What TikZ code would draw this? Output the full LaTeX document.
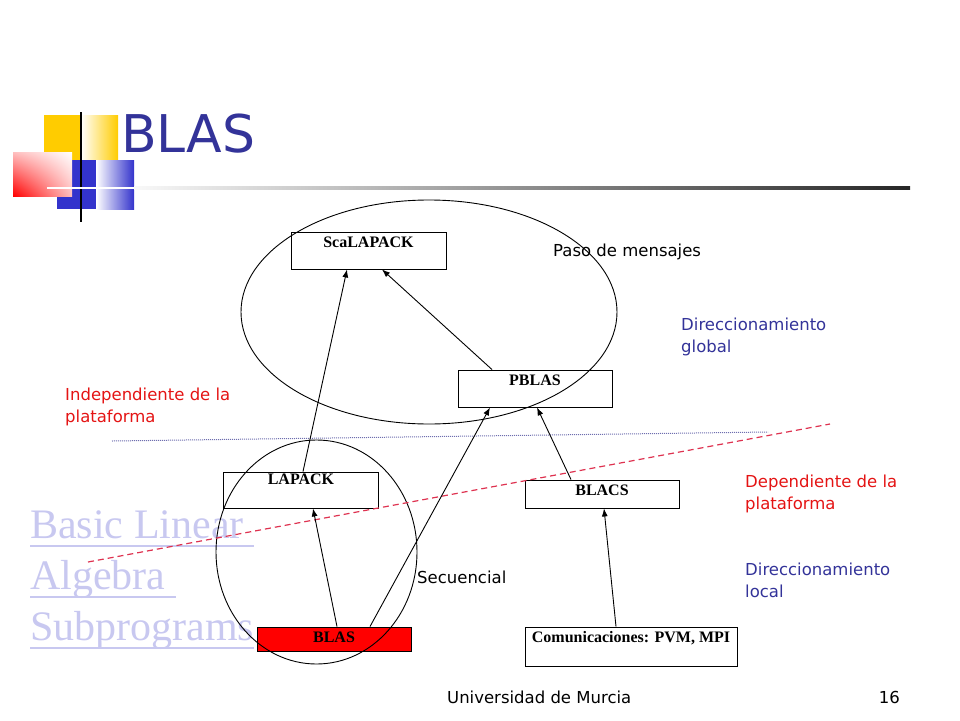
\documentclass[tikz,border=0pt]{standalone}
\usepackage{fontspec}
\setmainfont{DejaVu Sans}
\newfontfamily\timesfont{Liberation Serif}
\usepackage{tikz}
\usetikzlibrary{arrows.meta, positioning, shadings}
\definecolor{TitleColor}{RGB}{51,51,153}
\definecolor{AlertColor}{RGB}{228,20,20}
\definecolor{LinkColor}{RGB}{200,200,240}
\definecolor{CutColor}{RGB}{222,50,80}
\definecolor{DotColor}{RGB}{110,110,175}
\definecolor{LogoYellow}{RGB}{255,204,0}
\definecolor{LogoBlue}{RGB}{51,51,204}
\tikzstyle{arrow} = [line width=0.9pt, black, ->, >={Latex[length=8pt,width=6pt]}]
\tikzstyle{box} = [draw=black, line width=0.9pt, rectangle, inner sep=0pt]
\tikzstyle{boxtext} = [anchor=north, inner sep=0pt, yshift=-5pt, font=\timesfont\bfseries\fontsize{16}{18}\selectfont]
\tikzstyle{note} = [inner sep=0pt, align=left, font=\fontsize{16.5}{22}\selectfont]
\tikzstyle{link} = [inner sep=0pt, anchor=base west, text=LinkColor, font=\timesfont\fontsize{42}{51}\selectfont]

\begin{document}
\begin{tikzpicture}[x=1pt, y=-1pt]
    \useasboundingbox (0,0) rectangle (960,720);

    % logo and title
    \fill[LogoYellow] (44,115) rectangle (81,160);
    \shade[left color=white, right color=LogoYellow] (81,115) rectangle (118,160);
    \fill[LogoBlue] (57,160) rectangle (96,209);
    \shade[left color=white, right color=LogoBlue] (96,160) rectangle (134,209);
    \shade[lower left=red, upper left=red!25!white, lower right=red!25!white, upper right=white] (13,152) rectangle (72,196);
    \draw[black, line width=2pt] (81,112) -- (81,222);
    \draw[white, line width=2pt] (47,188) -- (134,188);
    \shade[left color=gray!5, right color=black!85] (134,186.5) rectangle (910,189.5);
    \node[inner sep=0pt, anchor=base west, text=TitleColor, font=\fontsize{52}{60}\selectfont] (title) at (121,152) {BLAS};

    % link text
    \node[link] (link1) at (30,538) {Basic Linear\hspace*{0.25em}};
    \node[link] (link2) at (30,589) {Algebra\hspace*{0.25em}};
    \node[link] (link3) at (30,640) {Subprograms};
    \foreach \l in {link1, link2, link3} {
        \draw[LinkColor, line width=2pt] ([yshift=-8pt]\l.base west) -- ([yshift=-8pt]\l.base east);
    }

    % levels
    \coordinate (dotA) at (112,441);
    \coordinate (dotB) at (768,432);
    \draw[DotColor, densely dotted, line width=1pt] (dotA) -- (dotB);

    % boxes
    \node[box, minimum width=155pt, minimum height=37pt, label={[boxtext]north:ScaLAPACK}] (scalapack) at (368.5,250.5) {};
    \node[box, minimum width=154pt, minimum height=37pt, label={[boxtext]north:PBLAS}] (pblas) at (535,388.5) {};
    \node[box, minimum width=155pt, minimum height=36pt, label={[boxtext, yshift=3pt]north:LAPACK}] (lapack) at (301,490) {};
    \node[box, minimum width=154pt, minimum height=28pt, label={[boxtext]north:BLACS}] (blacs) at (602,494) {};
    \node[box, fill=red, minimum width=154pt, minimum height=24pt, label={[boxtext]north:BLAS}] (blas) at (334,639) {};
    \node[box, minimum width=212pt, minimum height=39pt, label={[boxtext]north:Comunicaciones: PVM, MPI}] (comm) at (631,646.5) {};

    % regions
    \draw[line width=0.9pt] (429,312) ellipse [x radius=188, y radius=112];
    \draw[line width=0.9pt] (316.5,552) ellipse [x radius=100.5, y radius=112];

    \coordinate (cutA) at (88,562);
    \coordinate (cutB) at (830,424);
    \draw[CutColor, dash pattern=on 6pt off 4pt, line width=1.2pt] (cutA) -- (cutB);

    % arrows
    \draw[arrow] ([xshift=2pt]lapack.north) -- ([xshift=-21.5pt]scalapack.south);
    \draw[arrow] ([xshift=-43pt]pblas.north) -- ([xshift=13.5pt]scalapack.south);
    \draw[arrow] ([xshift=3pt]blas.north) -- ([xshift=12pt]lapack.south);
    \draw[arrow] ([xshift=36pt]blas.north) -- ([xshift=-45pt]pblas.south);
    \draw[arrow] ([xshift=-31pt]blacs.north) -- ([xshift=2pt]pblas.south);
    \draw[arrow] ([xshift=-15pt]comm.north) -- ([xshift=2pt]blacs.south);

    % notes
    \node[note, anchor=base west] (paso) at (553,256) {Paso de mensajes};
    \node[note, anchor=north west, text=TitleColor] (global) at (681,318) {Direccionamiento\\global};
    \node[note, anchor=north west, text=AlertColor] (indep) at (65,388) {Independiente de la\\plataforma};
    \node[note, anchor=north west, text=AlertColor] (dep) at (745,475) {Dependiente de la\\plataforma};
    \node[note, anchor=north west, text=TitleColor] (local) at (745,563) {Direccionamiento\\local};
    \node[note, anchor=base west] (secu) at (417,583) {Secuencial};

    % footer
    \node[note, anchor=base west] (uni) at (447,703) {Universidad de Murcia};
    \node[note, anchor=base east] (page) at (900,703) {16};
\end{tikzpicture}
\end{document}
